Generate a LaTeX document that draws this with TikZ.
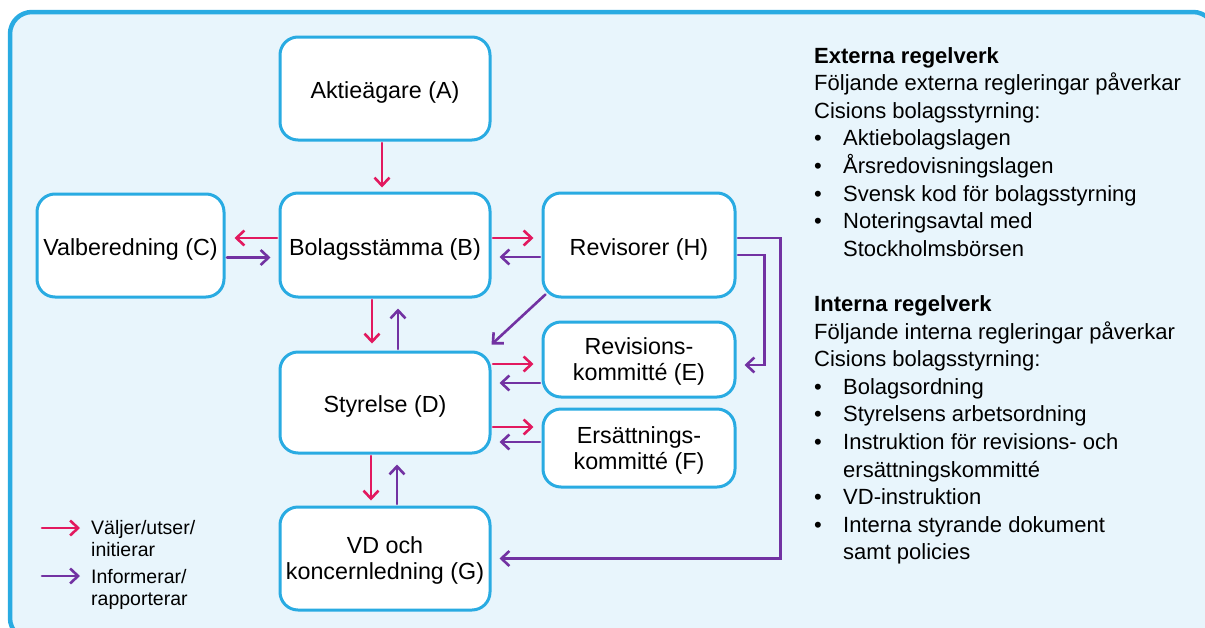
\documentclass[tikz,border=0pt]{standalone}
\usepackage{fontspec}
\setmainfont{Liberation Sans}
\usetikzlibrary{arrows.meta,calc}
\definecolor{frameCyan}{HTML}{29ABE2}
\definecolor{panelBlue}{HTML}{E8F5FC}
\definecolor{choosePink}{HTML}{E2195F}
\definecolor{reportPurple}{HTML}{7232A2}
\newcommand\boxfont{\fontsize{23.3}{26}\selectfont}
\newcommand\sidefont{\fontsize{22}{27.6}\selectfont}
\newcommand\legfont{\fontsize{19.5}{22}\selectfont}
\newcommand\bul{\llap{\makebox[29pt][l]{\textbullet}}}

\begin{document}
\begin{tikzpicture}[
  x=1pt, y=-1pt,
  >={Straight Barb[length=8pt,width=15pt]},
  line cap=round,
  box/.style={draw=frameCyan, line width=3pt, fill=white, rounded corners=18pt,
    align=center, font=\boxfont, inner sep=0pt, text depth=0pt},
  oneline/.style={text height=20pt},
  pinkarrow/.style={->, draw=choosePink, line width=2.6pt, shorten <=1.5pt},
  purplearrow/.style={->, draw=reportPurple, line width=2.6pt, shorten <=1.5pt},
  sidetext/.style={anchor=base west, inner sep=0pt, font=\sidefont},
  legtext/.style={anchor=north west, inner sep=0pt, align=left, font=\legfont}
]
  \useasboundingbox (0,0) rectangle (1205,627);

  % Panel
  \draw[frameCyan, line width=4.5pt, fill=panelBlue, rounded corners=22pt]
    (10,12) rectangle (1215,640);

  % Boxes
  \node[box, oneline, minimum width=210pt, minimum height=103pt] (A) at (385,88.5) {Aktieägare (A)};
  \node[box, oneline, minimum width=210pt, minimum height=104pt] (B) at (385,245) {Bolagsstämma (B)};
  \node[box, oneline, minimum width=187pt, minimum height=103pt] (C) at (130.5,245.5) {Valberedning (C)};
  \node[box, oneline, minimum width=192pt, minimum height=104pt] (H) at (639,245) {Revisorer (H)};
  \node[box, oneline, minimum width=210pt, minimum height=101pt] (D) at (385,402.5) {Styrelse (D)};
  \node[box, minimum width=192pt, minimum height=75pt] (E) at (639,359.5) {Revisions-\\kommitté (E)};
  \node[box, minimum width=192pt, minimum height=78pt] (F) at (639,448) {Ersättnings-\\kommitté (F)};
  \node[box, minimum width=210pt, minimum height=103pt] (G) at (385,558.5) {VD och\\koncernledning (G)};

  % Arrows around the general meeting
  \draw[pinkarrow, shorten >=4pt] ([xshift=-3pt]A.south) -- ([xshift=-3pt]B.north);
  \draw[pinkarrow, shorten >=9pt] ([yshift=7pt]B.west) -- ([yshift=7pt]B.west -| C.east);
  \draw[purplearrow, shorten >=8pt] ([yshift=-12pt]C.east) -- ([yshift=-12pt]C.east -| B.west);
  \draw[pinkarrow, shorten >=8pt] ([yshift=7pt]B.east) -- ([yshift=7pt]B.east -| H.west);
  \draw[purplearrow, shorten >=8pt] ([yshift=-12pt]H.west) -- ([yshift=-12pt]H.west -| B.east);
  \draw[pinkarrow, shorten >=7pt] ([xshift=-13pt]B.south) -- ([xshift=-13pt]D.north);
  \draw[purplearrow, shorten >=10pt] ([xshift=13pt]D.north) -- ([xshift=13pt]B.south);

  % Auditors report to the board and committees
  \draw[purplearrow] ([shift={(5pt,5pt)}]H.south west) -- ([yshift=6pt]D.north east);
  \draw[purplearrow, shorten >=8pt] ([yshift=-10pt]H.east) -- ++(28pt,0) |- ([yshift=-5.5pt]E.east);
  \draw[purplearrow, shorten >=8pt] ([yshift=7pt]H.east) -- ++(44pt,0) |- (G.east);

  % Board and committees
  \draw[pinkarrow, shorten >=8pt] ([yshift=38.5pt]D.east) -- ([yshift=38.5pt]D.east -| E.west);
  \draw[purplearrow, shorten >=8pt] ([yshift=-23.5pt]E.west) -- ([yshift=-23.5pt]E.west -| D.east);
  \draw[pinkarrow, shorten >=8pt] ([yshift=21pt]F.west -| D.east) -- ([yshift=21pt]F.west);
  \draw[purplearrow, shorten >=8pt] ([yshift=6pt]F.west) -- ([yshift=6pt]F.west -| D.east);

  % Board and management
  \draw[pinkarrow, shorten >=5pt] ([xshift=-14pt]D.south) -- ([xshift=-14pt]G.north);
  \draw[purplearrow, shorten >=10pt] ([xshift=12pt]G.north) -- ([xshift=12pt]D.south);

  % Legend
  \coordinate (pinkA) at (42,528);
  \coordinate (pinkB) at (80,528);
  \coordinate (purpA) at (42,576);
  \coordinate (purpB) at (80,576);
  \draw[pinkarrow, shorten <=0pt] (pinkA) -- (pinkB);
  \draw[purplearrow, shorten <=0pt] (purpA) -- (purpB);
  \node[legtext] (legPink) at (91,520.6) {Väljer/utser/\\initierar};
  \node[legtext] (legPurp) at (91,568.7) {Informerar/\\rapporterar};

  % Regulations text
  \foreach \k/\xx/\txt [count=\i] in {
    0/814/{\bfseries Externa regelverk},
    1/814/Följande externa regleringar påverkar,
    2/814/Cisions bolagsstyrning:,
    3/843/\bul Aktiebolagslagen,
    4/843/\bul Årsredovisningslagen,
    5/843/\bul Svensk kod för bolagsstyrning,
    6/843/\bul Noteringsavtal med,
    7/843/Stockholmsbörsen,
    9/814/{\bfseries Interna regelverk},
    10/814/Följande interna regleringar påverkar,
    11/814/Cisions bolagsstyrning:,
    12/843/\bul Bolagsordning,
    13/843/\bul Styrelsens arbetsordning,
    14/843/\bul Instruktion för revisions- och,
    15/843/ersättningskommitté,
    16/843/\bul VD-instruktion,
    17/843/\bul Interna styrande dokument,
    18/843/samt policies}
    \node[sidetext] (side\i) at (\xx,63+27.6*\k) {\txt};
\end{tikzpicture}
\end{document}
